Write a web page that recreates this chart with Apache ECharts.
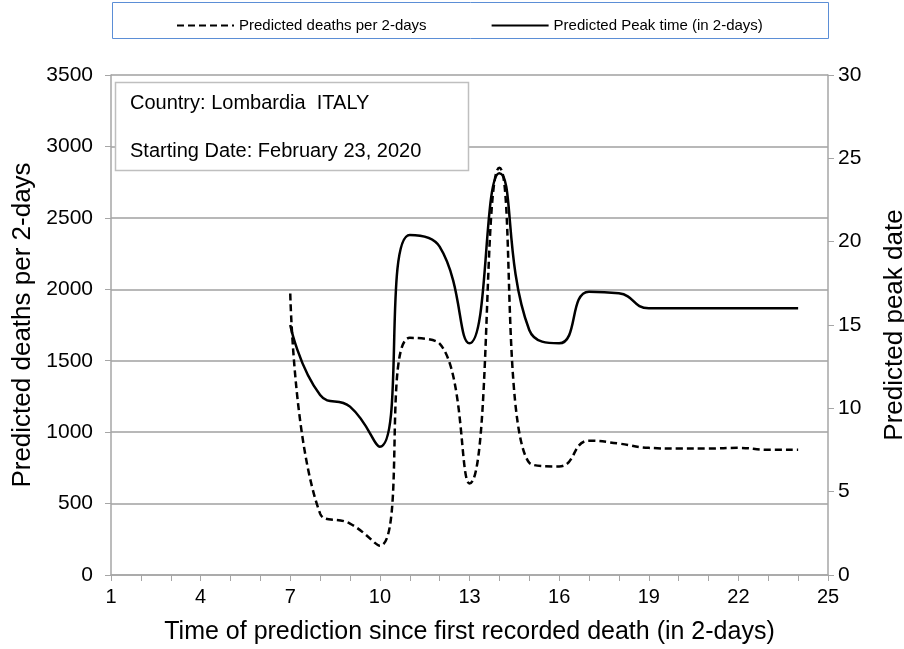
<!DOCTYPE html>
<html><head><meta charset="utf-8">
<script src="https://cdn.jsdelivr.net/npm/echarts@6/dist/echarts.min.js"></script>
<style>html,body{margin:0;padding:0;background:#fff}#c{width:904px;height:649px}</style>
</head><body><div id="c"></div>
<script>
const xValues = [7,8,9,10,11,12,13,14,15,16,17,18,19,20,21,22,23,24];
const deaths = [1970,430,360,205,1660,1620,640,2850,785,760,940,920,890,885,885,890,877,877];
const peakTime = [15,10.8,10.1,7.7,20.4,19.7,13.9,24.1,14.7,13.9,17.0,16.9,16.0,16.0,16.0,16.0,16.0,16.0];
const leftTicks = [0,500,1000,1500,2000,2500,3000,3500];
const rightTicks = [0,5,10,15,20,25,30];
const xTicks = [1,4,7,10,13,16,19,22,25];
const legendNames = ['Predicted deaths per 2-days','Predicted Peak time (in 2-days)'];
const infoLines = ['Country: Lombardia  ITALY','Starting Date: February 23, 2020'];

const chart = echarts.init(document.getElementById('c'));
const font = 'Liberation Sans, Arial, sans-serif';
const axisGray = '#a6a6a6';
chart.setOption({
  animation:false,
  backgroundColor:'#fff',
  grid:{left:111,right:76,top:75,bottom:74,containLabel:false,outerBoundsMode:'none'},
  legend:{
    data:legendNames, top:13, left:171, itemWidth:57, itemHeight:12, itemGap:64,
    itemStyle:{opacity:0},
    textStyle:{fontFamily:font,fontSize:15,color:'#000'}
  },
  graphic:[
    {type:'rect',shape:{x:112.5,y:2.5,width:716,height:36},style:{fill:'none',stroke:'#5b8ed6',lineWidth:1}},
    {type:'rect',shape:{x:115.5,y:82.5,width:353,height:88},style:{fill:'#fff',stroke:'#bfbfbf',lineWidth:1.5},z:10},
    {type:'text',x:130,y:103,style:{text:infoLines[0],font:'20px '+font,fill:'#000',textVerticalAlign:'middle'},z:11},
    {type:'text',x:130,y:151,style:{text:infoLines[1],font:'20px '+font,fill:'#000',textVerticalAlign:'middle'},z:11}
  ],
  xAxis:{
    type:'value',min:1,max:25,interval:3,
    name:'Time of prediction since first recorded death (in 2-days)',nameLocation:'middle',nameGap:45,
    nameTextStyle:{fontFamily:font,fontSize:25,color:'#000'},
    axisLine:{lineStyle:{color:axisGray,width:1.5}},
    axisTick:{show:true,length:6,lineStyle:{color:axisGray}},
    minorTick:{show:true,splitNumber:3,length:6,lineStyle:{color:axisGray}},
    axisLabel:{fontFamily:font,fontSize:20,color:'#000',margin:12,formatter:v=>xTicks.includes(v)?String(v):''},
    splitLine:{show:false}
  },
  yAxis:[
    {type:'value',min:0,max:3500,interval:500,position:'left',
     name:'Predicted deaths per 2-days',nameLocation:'middle',nameGap:71,nameRotate:90,
     nameTextStyle:{fontFamily:font,fontSize:26,color:'#000'},
     axisLine:{show:true,lineStyle:{color:axisGray,width:1.5}},
     axisTick:{show:true,length:6,lineStyle:{color:axisGray}},
     axisLabel:{fontFamily:font,fontSize:21,color:'#000',margin:18,formatter:v=>leftTicks.includes(v)?String(v):''},
     splitLine:{show:true,lineStyle:{color:'#a0a0a0',width:1.5}}},
    {type:'value',min:0,max:30,interval:5,position:'right',
     name:'Predicted peak date',nameLocation:'middle',nameGap:54,nameRotate:90,
     nameTextStyle:{fontFamily:font,fontSize:26,color:'#000'},
     axisLine:{show:true,lineStyle:{color:axisGray,width:1.5}},
     axisTick:{show:true,length:6,lineStyle:{color:axisGray}},
     axisLabel:{fontFamily:font,fontSize:21,color:'#000',margin:10,formatter:v=>rightTicks.includes(v)?String(v):''},
     splitLine:{show:false}}
  ],
  series:[
    {name:legendNames[0],type:'line',yAxisIndex:0,smooth:0.5,symbol:'none',
     data:xValues.map((x,i)=>[x,deaths[i]]),
     lineStyle:{color:'#000',width:2.5,type:[7,4]},itemStyle:{color:'#000'}},
    {name:legendNames[1],type:'line',yAxisIndex:1,smooth:0.5,symbol:'none',
     data:xValues.map((x,i)=>[x,peakTime[i]]),
     lineStyle:{color:'#000',width:2.5},itemStyle:{color:'#000'}}
  ]
});
</script></body></html>
